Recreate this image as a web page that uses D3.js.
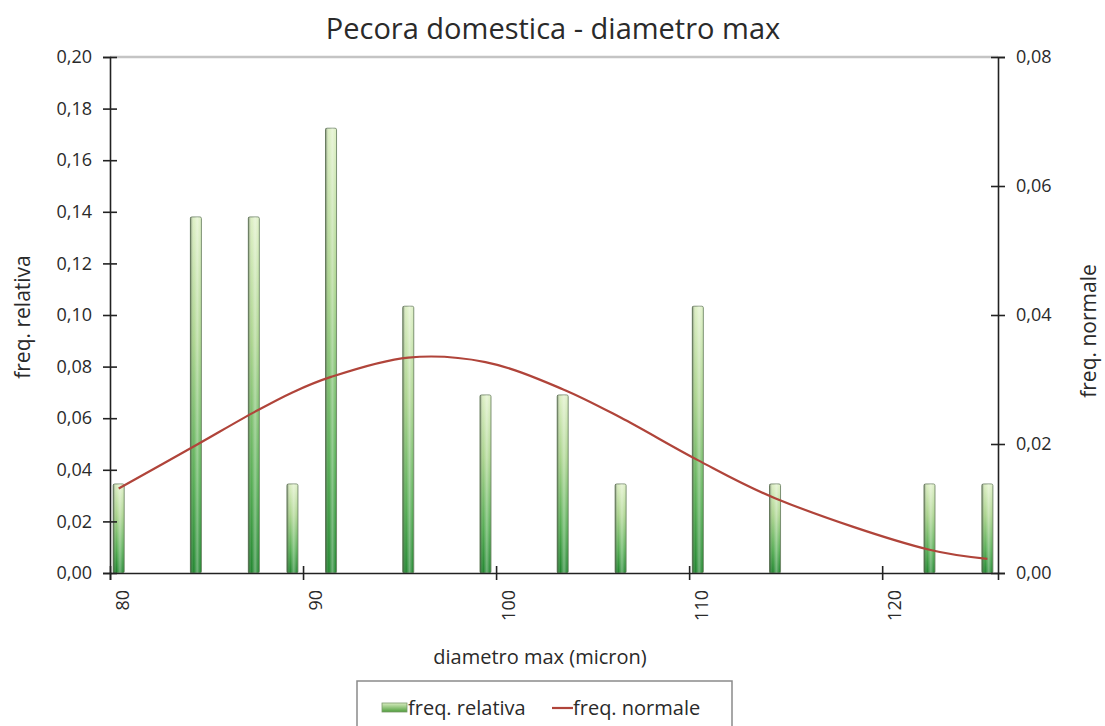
<!DOCTYPE html>
<html>
<head>
<meta charset="utf-8">
<script src="https://cdn.jsdelivr.net/npm/d3@7"></script>
<style>
  body { margin: 0; background: #fff; }
  text { font-family: "Open Sans", sans-serif; fill: #2a2a2a; }
</style>
</head>
<body>
<div id="chart"></div>
<script>
const width = 1105, height = 726,
  margin = { top: 57, bottom: 153, left: 110, right: 107 };

// diameter classes (micron) and relative frequency of each
var diametri = [80, 84, 87, 89, 91, 95, 99, 103, 106, 110, 114, 122, 125]
var freqRelativa = [0.0345, 0.138, 0.138, 0.0345, 0.1724, 0.1034, 0.069, 0.069, 0.0345, 0.1034, 0.0345, 0.0345, 0.0345]
// normal curve read at the same classes
var freqNormale = [0.0131, 0.0198, 0.0249, 0.0280, 0.0304, 0.0334, 0.0327, 0.0285, 0.0241, 0.0175, 0.0116, 0.0036, 0.0022]

var xTicks = [80, 90, 100, 110, 120]
var yLeftTicks = [0, 0.02, 0.04, 0.06, 0.08, 0.10, 0.12, 0.14, 0.16, 0.18, 0.20]
var yRightTicks = [0, 0.02, 0.04, 0.06, 0.08]

const it = d3.formatLocale({ decimal: ",", thousands: ".", grouping: [3], currency: ["", "€"] })
const fmt = it.format(".2f")

var svg = d3.select("#chart")
  .append("svg")
  .attr("width", width)
  .attr("height", height)

var defs = svg.append("defs")

var gv = defs.append("linearGradient")
  .attr("id", "barV").attr("x1", 0).attr("y1", 0).attr("x2", 0).attr("y2", 1)
gv.append("stop").attr("offset", "0%").attr("stop-color", "#dcefc2")
gv.append("stop").attr("offset", "35%").attr("stop-color", "#a6d287")
gv.append("stop").attr("offset", "75%").attr("stop-color", "#4aa848")
gv.append("stop").attr("offset", "100%").attr("stop-color", "#137f22")

var gh = defs.append("linearGradient")
  .attr("id", "barH").attr("x1", 0).attr("y1", 0).attr("x2", 1).attr("y2", 0)
gh.append("stop").attr("offset", "0%").attr("stop-color", "#2f3f2a").attr("stop-opacity", 0.6)
gh.append("stop").attr("offset", "30%").attr("stop-color", "#ffffff").attr("stop-opacity", 0.05)
gh.append("stop").attr("offset", "62%").attr("stop-color", "#ffffff").attr("stop-opacity", 0.4)
gh.append("stop").attr("offset", "100%").attr("stop-color", "#ffffff").attr("stop-opacity", 0.0)

var gl = defs.append("linearGradient")
  .attr("id", "legSw").attr("x1", 0).attr("y1", 0).attr("x2", 0).attr("y2", 1)
gl.append("stop").attr("offset", "0%").attr("stop-color", "#d7ecbf")
gl.append("stop").attr("offset", "100%").attr("stop-color", "#4f9e3c")

var x = d3.scaleLinear()
  .domain([80, 126])
  .range([margin.left, width - margin.right])

var y = d3.scaleLinear()
  .domain([0, 0.20])
  .range([height - margin.bottom, margin.top])

var y2 = d3.scaleLinear()
  .domain([0, 0.08])
  .range([height - margin.bottom, margin.top])

var data = diametri.map((d, i) => ({ d: d, rel: freqRelativa[i], norm: freqNormale[i] }))

// top border of plot area
svg.append("line")
  .attr("x1", margin.left).attr("x2", width - margin.right)
  .attr("y1", margin.top).attr("y2", margin.top)
  .attr("stroke", "#c4c4c4").attr("stroke-width", 2.5)

// bars
const bw = 11
var bars = svg.append("g")
bars.selectAll(".bar")
  .data(data)
  .enter()
  .append("rect")
  .attr("class", "bar")
  .attr("x", d => x(d.d + 0.45) - bw / 2)
  .attr("y", d => y(d.rel))
  .attr("width", bw)
  .attr("height", d => y(0) - y(d.rel))
  .attr("rx", 1.5)
  .attr("fill", "url(#barV)")
  .attr("stroke", "#6f8566")
  .attr("stroke-width", 0.9)
bars.selectAll(".shade")
  .data(data)
  .enter()
  .append("rect")
  .attr("class", "shade")
  .attr("x", d => x(d.d + 0.45) - bw / 2)
  .attr("y", d => y(d.rel))
  .attr("width", bw)
  .attr("height", d => y(0) - y(d.rel))
  .attr("fill", "url(#barH)")

// normal curve
var line = d3.line()
  .x(d => x(d.d + 0.45))
  .y(d => y2(d.norm))
  .curve(d3.curveCatmullRom)

svg.append("path")
  .datum(data)
  .attr("d", line)
  .attr("fill", "none")
  .attr("stroke", "#b0443a")
  .attr("stroke-width", 2.2)

// axes
function styleAxis(g) {
  g.select(".domain").attr("stroke", "#222").attr("stroke-width", 1.6)
  g.selectAll(".tick line").attr("stroke", "#222").attr("stroke-width", 1.6)
  g.selectAll(".tick text").style("font-size", "18px").style("font-family", "'Open Sans', sans-serif").attr("fill", "#2a2a2a")
}

var yAxisL = svg.append("g")
  .attr("transform", `translate(${margin.left},0)`)
  .call(d3.axisLeft(y).tickValues(yLeftTicks).tickFormat(fmt).tickSizeOuter(0).tickSize(7).tickPadding(11))
yAxisL.call(styleAxis)
yAxisL.selectAll(".tick line").attr("x1", 7)

var yAxisR = svg.append("g")
  .attr("transform", `translate(${width - margin.right},0)`)
  .call(d3.axisRight(y2).tickValues(yRightTicks).tickFormat(fmt).tickSizeOuter(0).tickSize(7).tickPadding(11))
yAxisR.call(styleAxis)
yAxisR.selectAll(".tick line").attr("x1", -7)

var xAxis = svg.append("g")
  .attr("transform", `translate(0,${height - margin.bottom})`)
  .call(d3.axisBottom(x).tickValues(xTicks).tickSizeOuter(0).tickSize(7))
xAxis.call(styleAxis)
xAxis.selectAll(".tick line").attr("y1", -7)
xAxis.selectAll(".tick text")
  .attr("transform", "rotate(-90)")
  .attr("text-anchor", "end")
  .attr("x", -17)
  .attr("y", 12)
  .attr("dy", "0.35em")

// titles
svg.append("text")
  .attr("x", 553).attr("y", 39)
  .attr("text-anchor", "middle")
  .style("font-size", "29px")
  .text("Pecora domestica - diametro max")

svg.append("text")
  .attr("x", 540).attr("y", 664)
  .attr("text-anchor", "middle")
  .style("font-size", "20px")
  .text("diametro max (micron)")

svg.append("text")
  .attr("transform", "translate(30,317) rotate(-90)")
  .attr("text-anchor", "middle")
  .style("font-size", "21px")
  .text("freq. relativa")

svg.append("text")
  .attr("transform", "translate(1096,331) rotate(-90)")
  .attr("text-anchor", "middle")
  .style("font-size", "21px")
  .text("freq. normale")

// legend
var leg = svg.append("g")
leg.append("rect")
  .attr("x", 357).attr("y", 681).attr("width", 375).attr("height", 60)
  .attr("fill", "#fff").attr("stroke", "#8a8a8a").attr("stroke-width", 1.5)
leg.append("rect")
  .attr("x", 382).attr("y", 703).attr("width", 25).attr("height", 9)
  .attr("fill", "url(#legSw)").attr("stroke", "#7a9a6a").attr("stroke-width", 0.8)
leg.append("text")
  .attr("x", 408).attr("y", 715)
  .style("font-size", "20px")
  .text("freq. relativa")
leg.append("line")
  .attr("x1", 552).attr("x2", 573).attr("y1", 708).attr("y2", 708)
  .attr("stroke", "#b0443a").attr("stroke-width", 2.2)
leg.append("text")
  .attr("x", 573).attr("y", 715)
  .style("font-size", "20px")
  .text("freq. normale")
</script>
</body>
</html>
